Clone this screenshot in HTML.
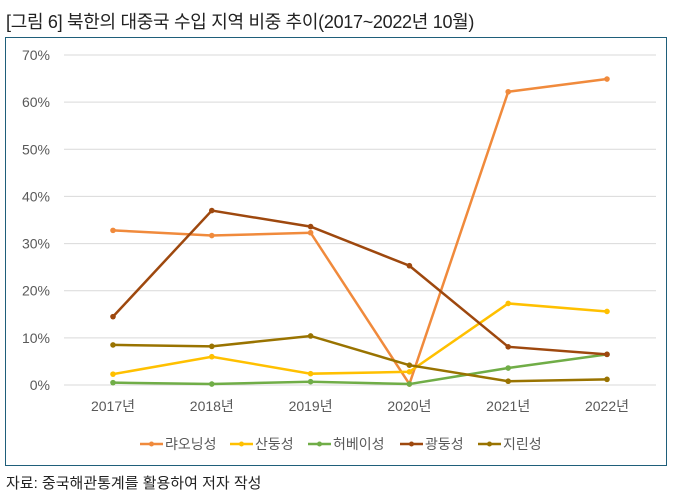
<!DOCTYPE html>
<html><head><meta charset="utf-8"><style>
body{margin:0;width:676px;height:494px;background:#fff;font-family:"Liberation Sans","Noto Sans CJK KR",sans-serif;overflow:hidden}
#title{position:absolute;left:6px;top:8px;font-size:18px;color:#222;letter-spacing:-0.3px}
#box{position:absolute;left:5px;top:37px;width:662px;height:429px;border:1px solid #1f5f7a;box-sizing:border-box}
#src{position:absolute;left:6px;top:472px;font-size:15px;color:#222}
svg{position:absolute;left:0;top:0}
</style></head><body>
<div id="title">[그림 6] 북한의 대중국 수입 지역 비중 추이(2017~2022년 10월)</div>
<div id="box"></div>
<div id="src">자료: 중국해관통계를 활용하여 저자 작성</div>
<svg id="chart" width="676" height="494"></svg>
<script>
const categories=["2017년","2018년","2019년","2020년","2021년","2022년"];
const yTicks=[0,10,20,30,40,50,60,70];
const seriesNames=["랴오닝성","산둥성","허베이성","광둥성","지린성"];
const seriesColors=["#f08a3c","#ffc000","#70ad47","#9e480e","#997300"];
const liaoning=[32.8,31.7,32.3,0.2,62.2,64.9];
const shandong=[2.3,6.0,2.4,2.8,17.3,15.6];
const hebei=[0.5,0.2,0.7,0.2,3.6,6.5];
const guangdong=[14.5,37.0,33.6,25.3,8.1,6.5];
const jilin=[8.5,8.2,10.4,4.2,0.8,1.2];
const seriesData=[liaoning,shandong,hebei,guangdong,jilin];
const NS="http://www.w3.org/2000/svg";
const svg=document.getElementById('chart');
const x=i=>113+i*98.8;
const y=v=>385-v*(330/70);
function mk(t,a){const e=document.createElementNS(NS,t);for(const k in a)e.setAttribute(k,a[k]);svg.appendChild(e);return e;}
yTicks.forEach(t=>{
 const g=mk('line',{x1:64,x2:656,y1:y(t),y2:y(t),stroke:'#d9d9d9','stroke-width':1});
 
 
 const l=mk('text',{x:50,y:y(t)+5,'text-anchor':'end','font-size':14,fill:'#595959'});
 l.textContent=t+'%';
 
 
});
categories.forEach((c,i)=>{
 const l=mk('text',{x:x(i),y:411,'text-anchor':'middle','font-size':14,fill:'#595959'});
 l.textContent=c;
 
 
});
seriesData.forEach((d,s)=>{
 const p=mk('polyline',{points:d.map((v,i)=>x(i)+','+y(v)).join(' '),fill:'none',stroke:seriesColors[s],'stroke-width':2.5});
 
 
 d.forEach((v,i)=>{
  const c=mk('circle',{cx:x(i),cy:y(v),r:2.8,fill:seriesColors[s]});
  
  
 });
});
const legX=[140,230,308,400,478];
seriesNames.forEach((n,s)=>{
 const l=mk('line',{x1:legX[s],x2:legX[s]+23,y1:444,y2:444,stroke:seriesColors[s],'stroke-width':2.5});
 
 
 const c=mk('circle',{cx:legX[s]+11.5,cy:444,r:2.5,fill:seriesColors[s]});
 
 
 const t=mk('text',{x:legX[s]+25,y:449,'font-size':14,fill:'#595959'});
 t.textContent=n;
 
 
});
</script>
</body></html>
